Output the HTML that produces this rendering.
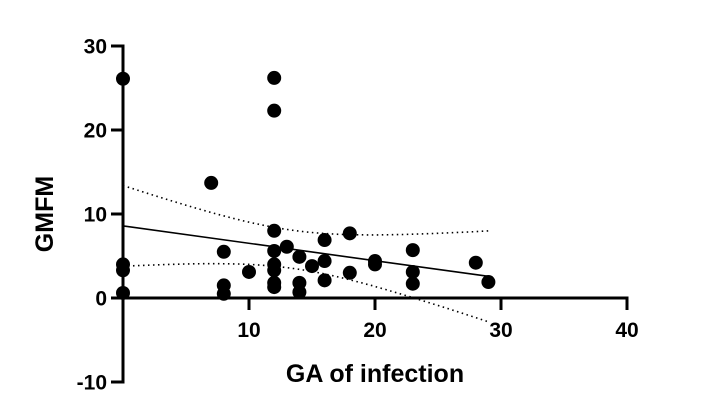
<!DOCTYPE html>
<html><head><meta charset="utf-8"><style>
html,body{margin:0;padding:0;background:#fff;}
svg{display:block;font-family:"Liberation Sans",Arial,sans-serif;}
</style></head><body>
<svg id="chart" width="709" height="413"></svg>
<script>
const xTicks=[10,20,30,40];
const yTicks=[-10,0,10,20,30];
const gaValues=[0,0,0,0,7,8,8,8,10,12,12,12,12,12,12,12,12,13,14,14,14,15,16,16,16,18,18,20,20,23,23,23,28,29];
const gmfmValues=[26.1,4.0,3.3,0.6,13.7,5.5,1.5,0.5,3.1,26.2,22.3,8.0,5.6,4.0,3.3,1.8,1.3,6.1,4.9,1.8,0.7,3.8,6.9,4.4,2.1,7.7,3.0,4.4,4.0,5.7,3.1,1.7,4.2,1.9];

const NS="http://www.w3.org/2000/svg";
const svg=document.getElementById('chart');
const X0=123,X1=627,Y30=46,Y0=298;
const sx=v=>X0+v*(X1-X0)/40;
const sy=v=>Y0-v*(Y0-Y30)/30;
function mk(tag,attrs,parent){const e=document.createElementNS(NS,tag);for(const k in attrs)e.setAttribute(k,attrs[k]);(parent||svg).appendChild(e);return e;}

const n=gaValues.length;
const mx=gaValues.reduce((a,b)=>a+b,0)/n, my=gmfmValues.reduce((a,b)=>a+b,0)/n;
let sxx=0,sxy=0;for(let i=0;i<n;i++){sxx+=(gaValues[i]-mx)**2;sxy+=(gaValues[i]-mx)*(gmfmValues[i]-my);}
const b=sxy/sxx,a=my-b*mx;
let sse=0;for(let i=0;i<n;i++)sse+=(gmfmValues[i]-a-b*gaValues[i])**2;
const se=Math.sqrt(sse/(n-2)),t=2.037;
const xmin=Math.min(...gaValues),xmax=Math.max(...gaValues);
let up=[],lo=[];
for(let k=0;k<=60;k++){const x=xmin+(xmax-xmin)*k/60;const yh=a+b*x;const h=t*se*Math.sqrt(1/n+(x-mx)**2/sxx);
up.push(sx(x).toFixed(1)+','+sy(yh+h).toFixed(1));lo.push(sx(x).toFixed(1)+','+sy(yh-h).toFixed(1));}
let p=mk('polyline',{points:up.join(' '),fill:'none',stroke:'#000','stroke-width':1.6,'stroke-dasharray':'1.5 3.5'});


p=mk('polyline',{points:lo.join(' '),fill:'none',stroke:'#000','stroke-width':1.6,'stroke-dasharray':'1.5 3.5'});


p=mk('line',{x1:sx(xmin),y1:sy(a+b*xmin),x2:sx(xmax),y2:sy(a+b*xmax),stroke:'#000','stroke-width':1.6});



let ax=mk('line',{x1:X0,y1:Y0,x2:X1+1.5,y2:Y0,stroke:'#000','stroke-width':3});


ax=mk('line',{x1:X0,y1:sy(30)-1.5,x2:X0,y2:sy(-10)+1.5,stroke:'#000','stroke-width':3});


xTicks.forEach(v=>{
 const l=mk('line',{x1:sx(v),y1:Y0,x2:sx(v),y2:Y0+12,stroke:'#000','stroke-width':3});
 
 
 const tx=mk('text',{x:sx(v),y:Y0+39,'text-anchor':'middle','font-size':21,'font-weight':'bold'});
 tx.textContent=v;
 
 
});
yTicks.forEach(v=>{
 const l=mk('line',{x1:X0-12,y1:sy(v),x2:X0,y2:sy(v),stroke:'#000','stroke-width':3});
 
 
 const tx=mk('text',{x:X0-16,y:sy(v)+7.5,'text-anchor':'end','font-size':21,'font-weight':'bold'});
 tx.textContent=v;
 
 
});
let tt=mk('text',{x:375,y:382,'text-anchor':'middle','font-size':25,'font-weight':'bold'});
tt.textContent='GA of infection';


tt=mk('text',{x:0,y:0,transform:'translate(53,214) rotate(-90)','text-anchor':'middle','font-size':25,'font-weight':'bold'});
tt.textContent='GMFM';



for(let i=0;i<n;i++){
 const c=mk('circle',{cx:sx(gaValues[i]),cy:sy(gmfmValues[i]),r:7,fill:'#000'});
 
 
}
</script>
</body></html>
